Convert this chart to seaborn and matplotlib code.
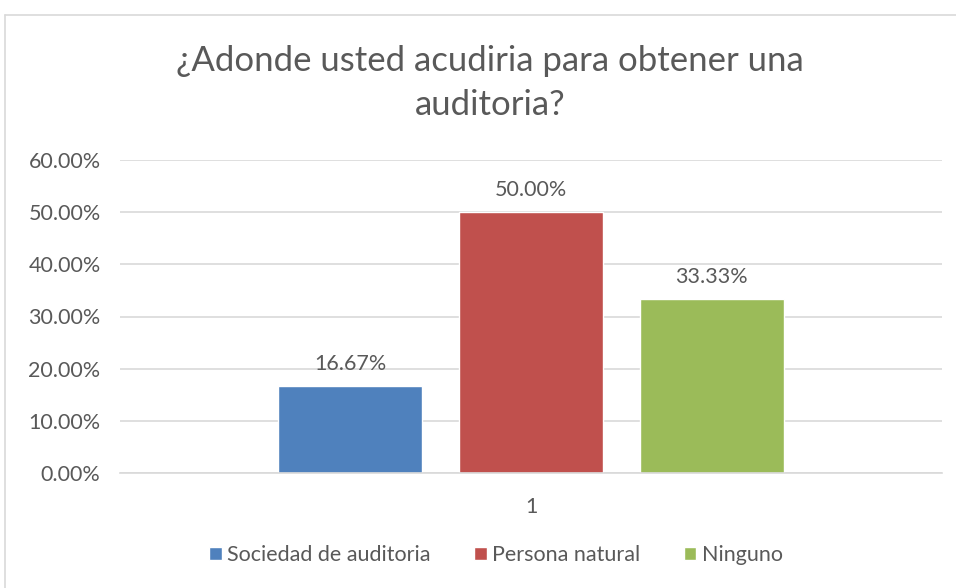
import pandas as pd
import matplotlib.pyplot as plt
import seaborn as sns
from matplotlib.lines import Line2D
from matplotlib.ticker import FuncFormatter

# -----------------------------
# Data
# -----------------------------
categories = ["Sociedad de auditoria", "Persona natural", "Ninguno"]
values = [0.1667, 0.50, 0.3333]
group_label = ["1", "1", "1"]
colors = ["#4F81BD", "#C0504D", "#9BBB59"]

TITLE = "¿Adonde usted acudiria para obtener una\nauditoria?"
TEXT = "#595959"
GRID = "#D9D9D9"

df = pd.DataFrame({"grupo": group_label, "opcion": categories, "valor": values})

# -----------------------------
# Plot
# -----------------------------
sns.set_style("white")
plt.rcParams["font.family"] = ["Lato", "DejaVu Sans"]

fig = plt.figure(figsize=(9.56, 5.88), dpi=100)
ax = fig.add_axes([120 / 956, 115 / 588, 822 / 956, 313 / 588])

sns.barplot(data=df, x="grupo", y="valor", hue="opcion", hue_order=categories,
            palette=colors, width=0.66, gap=0.2, saturation=1, ax=ax, legend=True)

ax.set_ylim(0, 0.6)
ax.set_xlim(-0.5, 0.5)
ax.set_yticks([0, 0.1, 0.2, 0.3, 0.4, 0.5, 0.6])
ax.yaxis.set_major_formatter(FuncFormatter(lambda v, _: f"{v:.2%}"))
ax.grid(axis="y", color=GRID, linewidth=1.2)
ax.set_axisbelow(True)
for s in ["top", "right", "left"]:
    ax.spines[s].set_visible(False)
ax.spines["bottom"].set_color(GRID)
ax.spines["bottom"].set_linewidth(1.2)
ax.tick_params(axis="y", length=0, pad=14, labelsize=15.5, labelcolor=TEXT)
ax.tick_params(axis="x", length=0, pad=17, labelsize=15.5, labelcolor=TEXT)
ax.set_xlabel("")
ax.set_ylabel("")

for cont in ax.containers:
    ax.bar_label(cont, labels=[f"{v:.2%}" for v in cont.datavalues],
                 padding=9, fontsize=15.5, color=TEXT)

ax.legend(loc="center", bbox_to_anchor=(496 / 956, 33 / 588),
          bbox_transform=fig.transFigure, ncol=3, frameon=False,
          handlelength=0.6, handleheight=0.6, handletextpad=0.25,
          columnspacing=2.0, fontsize=15.5, labelcolor=TEXT)

fig.text(490 / 956, 1 - 83 / 588, TITLE, ha="center", va="center",
         fontsize=25, color=TEXT, linespacing=1.45)

# chart area border (cut at right and bottom)
fig.add_artist(Line2D([5 / 956, 5 / 956], [0, 1 - 15 / 588],
                      transform=fig.transFigure, color=GRID, linewidth=1.2))
fig.add_artist(Line2D([5 / 956, 1], [1 - 15 / 588, 1 - 15 / 588],
                      transform=fig.transFigure, color=GRID, linewidth=1.2))

fig.savefig("out.png", dpi=100)
